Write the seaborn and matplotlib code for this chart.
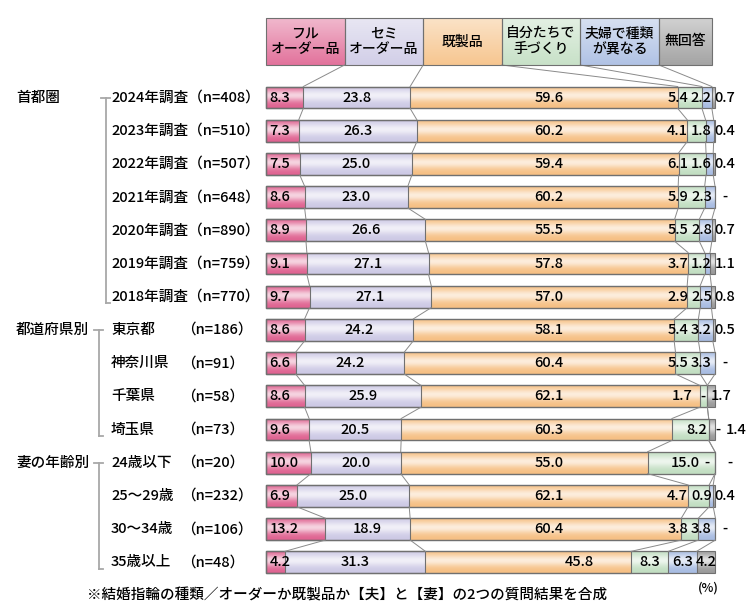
import numpy as np
import pandas as pd
import matplotlib.pyplot as plt
from matplotlib.patches import Rectangle
import seaborn as sns

plt.rcParams['font.family'] = ['Noto Sans CJK JP', 'DejaVu Sans']
plt.rcParams['font.weight'] = 'medium'

# ---- data ----
categories = ['フル\nオーダー品', 'セミ\nオーダー品', '既製品', '自分たちで\n手づくり', '夫婦で種類\nが異なる', '無回答']
row_labels = ['2024年調査（n=408）', '2023年調査（n=510）', '2022年調査（n=507）', '2021年調査（n=648）',
              '2020年調査（n=890）', '2019年調査（n=759）', '2018年調査（n=770）',
              '東京都', '神奈川県', '千葉県', '埼玉県',
              '24歳以下', '25～29歳', '30～34歳', '35歳以上']
n_labels = ['', '', '', '', '', '', '',
            '（n=186）', '（n=91）', '（n=58）', '（n=73）',
            '（n=20）', '（n=232）', '（n=106）', '（n=48）']
groups = ['首都圏', '都道府県別', '妻の年齢別']
group_rows = [0, 7, 11]
group_ends = [6, 10, 14]

full = [8.3, 7.3, 7.5, 8.6, 8.9, 9.1, 9.7, 8.6, 6.6, 8.6, 9.6, 10.0, 6.9, 13.2, 4.2]
semi = [23.8, 26.3, 25.0, 23.0, 26.6, 27.1, 27.1, 24.2, 24.2, 25.9, 20.5, 20.0, 25.0, 18.9, 31.3]
ready = [59.6, 60.2, 59.4, 60.2, 55.5, 57.8, 57.0, 58.1, 60.4, 62.1, 60.3, 55.0, 62.1, 60.4, 45.8]
diy = [5.4, 4.1, 6.1, 5.9, 5.5, 3.7, 2.9, 5.4, 5.5, 1.7, 8.2, 15.0, 4.7, 3.8, 8.3]
mixed = [2.2, 1.8, 1.6, 2.3, 2.8, 1.2, 2.5, 3.2, 3.3, 0.0, 0.0, 0.0, 0.9, 3.8, 6.3]
no_answer = [0.7, 0.4, 0.4, 0.0, 0.7, 1.1, 0.8, 0.5, 0.0, 1.7, 1.4, 0.0, 0.4, 0.0, 4.2]

footnote = '※結婚指輪の種類／オーダーか既製品か【夫】と【妻】の2つの質問結果を合成'

colors = ['#df6391', '#cdc9e5', '#f6c084', '#c2dec2', '#a8bce2', '#9a9a9a']

df = pd.DataFrame({'row': row_labels, 'full': full, 'semi': semi, 'ready': ready,
                   'diy': diy, 'mixed': mixed, 'no_answer': no_answer})
cols = ['full', 'semi', 'ready', 'diy', 'mixed', 'no_answer']
cum = df[cols].cumsum(axis=1)
starts = cum - df[cols]

# ---- layout (pixel -> data helpers) ----
X0, PX = 266, 4.49      # bar left edge in px, px per percent
Y0, ROW = 97.5, 33.2    # first row centre in px, row pitch in px
BAR_H = 0.66


def px_x(p):
    return (p - X0) / PX


def px_y(p):
    return (p - Y0) / ROW


fig = plt.figure(figsize=(7.5, 6.16), dpi=100)
ax = fig.add_axes([0, 0, 1, 1])

# stacked bars: draw cumulative layers, longest first
for k in range(len(cols) - 1, -1, -1):
    sns.barplot(x=cum[cols[k]], y=df['row'], orient='h', color=colors[k], width=BAR_H,
                errorbar=None, linewidth=0, saturation=1, ax=ax, zorder=2)

# glossy highlight on each bar
t = np.linspace(0, 1, 64)
alpha = 0.72 * np.exp(-((t - 0.42) / 0.27) ** 2)
shine = np.ones((64, 1, 4))
shine[:, 0, 3] = alpha
for i in range(len(df)):
    ax.imshow(shine, extent=(0, cum.iloc[i, -1], i + BAR_H / 2, i - BAR_H / 2),
              aspect='auto', interpolation='bilinear', zorder=3)

# outlines on top of the highlight
for p in list(ax.patches):
    ax.add_patch(Rectangle(p.get_xy(), p.get_width(), p.get_height(), fill=False,
                           ec='#707070', lw=0.8, zorder=4))

# connector lines between rows
for i in range(len(df) - 1):
    for k in range(5):
        ax.plot([cum.iloc[i, k], cum.iloc[i + 1, k]], [i + BAR_H / 2, i + 1 - BAR_H / 2],
                color='#8a8a8a', lw=0.7, zorder=4)

# header boxes
box_left = [0, 17.5, 35, 52.5, 70, 87.5]
box_right = [17.5, 35, 52.5, 70, 87.5, 99.3]
hb_top, hb_bot = px_y(18), px_y(65)
head_shine = np.ones((64, 1, 4))
head_shine[:, 0, 3] = np.linspace(0.55, 0.1, 64)
for k, name in enumerate(categories):
    ax.add_patch(Rectangle((box_left[k], hb_top), box_right[k] - box_left[k], hb_bot - hb_top,
                           fc=colors[k], ec='none', zorder=2))
    ax.imshow(head_shine, extent=(box_left[k], box_right[k], hb_bot, hb_top),
              aspect='auto', interpolation='bilinear', zorder=3)
    ax.add_patch(Rectangle((box_left[k], hb_top), box_right[k] - box_left[k], hb_bot - hb_top,
                           fill=False, ec='#707070', lw=0.8, zorder=4))
    ax.text((box_left[k] + box_right[k]) / 2, (hb_top + hb_bot) / 2, name, ha='center',
            va='center', fontsize=10, linespacing=1.1, zorder=5)
    if k < 5:
        ax.plot([box_right[k], cum.iloc[0, k]], [hb_bot, -BAR_H / 2], color='#8a8a8a', lw=0.7, zorder=4)

# value labels
def fmt(v):
    return '-' if v == 0 else f'{v:.1f}'


tail_default = [(94.0, 'right'), (99.3, 'right'), (102.2, 'center')]
tail_special = {9: [(95.1, 'right'), (97.3, 'center'), (101.3, 'center')],
                10: [(98.2, 'right'), (100.7, 'center'), (104.7, 'center')],
                11: [(96.7, 'right'), (98.2, 'center'), (103.3, 'center')]}
fs = 10.5
last = len(df) - 1
for i in range(len(df)):
    vals = df.loc[i, cols].tolist()
    s = starts.iloc[i].tolist()
    ax.text(0.8, i, fmt(vals[0]), ha='left', va='center', fontsize=fs, zorder=5)
    ax.text(s[1] + vals[1] / 2, i, fmt(vals[1]), ha='center', va='center', fontsize=fs, zorder=5)
    ax.text(69.7 if i == last else 63.0, i, fmt(vals[2]), ha='center', va='center', fontsize=fs, zorder=5)
    if i == last:
        tail = [(s[k] + vals[k] / 2, 'center') for k in (3, 4, 5)]
    else:
        tail = tail_special.get(i, tail_default)
    for (x, ha), v in zip(tail, vals[3:]):
        ax.text(x, i, fmt(v), ha=ha, va='center', fontsize=fs, zorder=5)

# row labels, group labels, brackets
for i, (lab, nl) in enumerate(zip(row_labels, n_labels)):
    ax.text(px_x(111), i, lab, ha='left', va='center', fontsize=fs)
    if nl:
        ax.text(px_x(181), i, nl, ha='left', va='center', fontsize=fs)

for g, r0, r1, bx in zip(groups, group_rows, group_ends, [106, 99, 99]):
    ax.text(px_x(16), r0, g, ha='left', va='center', fontsize=fs)
    xv = px_x(bx)
    ax.plot([xv, xv], [r0, r1 + 0.2], color='#a8a8a8', lw=1.3)
    ax.plot([px_x(bx - 5), px_x(bx + 4)], [r0, r0], color='#a8a8a8', lw=1.3)
    ax.plot([xv, px_x(bx + 4)], [r1 + 0.2, r1 + 0.2], color='#a8a8a8', lw=1.3)

ax.text(px_x(708), px_y(588), '(%)', ha='center', va='center', fontsize=9)
ax.text(px_x(87), px_y(595), footnote, ha='left', va='center', fontsize=10.5)

ax.set_xlim(px_x(0), px_x(750))
ax.set_ylim(px_y(616), px_y(0))
ax.axis('off')

fig.savefig('out.png', dpi=100, facecolor='white')
